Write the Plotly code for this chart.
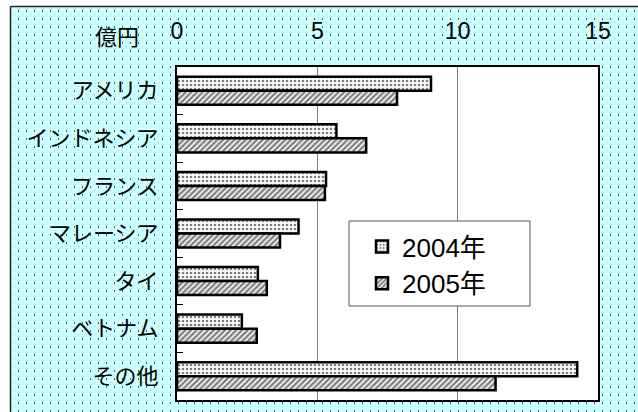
import plotly.graph_objects as go
import base64

categories = ["アメリカ", "インドネシア", "フランス", "マレーシア", "タイ", "ベトナム", "その他"]
series_names = ["2004年", "2005年"]
values_2004 = [9.05, 5.68, 5.31, 4.33, 2.88, 2.31, 14.26]
values_2005 = [7.84, 6.74, 5.27, 3.67, 3.20, 2.84, 11.35]
x_ticks = [0, 5, 10, 15]
unit_label = "億円"

W, H = 638, 412
L, R, T, B = 177, 40, 67, 12
pw, ph = W - L - R, H - T - B

FONT = "Liberation Sans, Arial, Noto Sans CJK JP, sans-serif"


def px_x(p):
    return (p - L) / pw


def px_y(p):
    return (H - B - p) / ph


# decorative background (dotted cyan chart area, white plot area)
svg = f'''<svg xmlns="http://www.w3.org/2000/svg" width="{W}" height="{H}" viewBox="0 0 {W} {H}">
<defs><pattern id="p" width="8" height="8" patternUnits="userSpaceOnUse">
<rect width="8" height="8" fill="#ccffff"/>
<rect x="2" y="2" width="1" height="2" fill="#3a6a6a"/>
<rect x="6" y="6" width="1" height="1" fill="#99cccc"/>
</pattern></defs>
<rect width="{W}" height="{H}" fill="#ffffff"/>
<rect x="11" y="6" width="{W}" height="{H}" fill="url(#p)"/>
<line x1="10.5" y1="6.5" x2="{W}" y2="6.5" stroke="#222" stroke-width="1.5"/>
<line x1="10.5" y1="6.5" x2="10.5" y2="{H}" stroke="#222" stroke-width="1.5"/>
<rect x="{L}" y="{T}" width="{pw}" height="{ph}" fill="#ffffff"/>
</svg>'''
src = "data:image/svg+xml;base64," + base64.b64encode(svg.encode()).decode()

fig = go.Figure()
fig.add_trace(go.Bar(
    y=categories, x=values_2004, name=series_names[0], orientation="h",
    marker=dict(color="white", line=dict(color="black", width=2.5),
                pattern=dict(shape=".", fgcolor="black", bgcolor="white", size=4, solidity=0.35)),
))
fig.add_trace(go.Bar(
    y=categories, x=values_2005, name=series_names[1], orientation="h",
    marker=dict(color="white", line=dict(color="black", width=2.5),
                pattern=dict(shape="/", fgcolor="black", bgcolor="white", size=4, solidity=0.6)),
))

fig.update_layout(
    width=W, height=H,
    margin=dict(l=L, r=R, t=T, b=B, autoexpand=False),
    paper_bgcolor="rgba(0,0,0,0)", plot_bgcolor="rgba(0,0,0,0)",
    barmode="group", bargap=0.41, bargroupgap=0,
    font=dict(family=FONT, size=22, color="black"),
    images=[dict(source=src, xref="paper", yref="paper",
                 x=-L / pw, y=(ph + T) / ph, sizex=W / pw, sizey=H / ph,
                 xanchor="left", yanchor="top", sizing="stretch", layer="below")],
    xaxis=dict(side="top", range=[0, 15], tickvals=x_ticks, ticktext=[str(v) for v in x_ticks],
               showgrid=True, gridcolor="#808080", gridwidth=1, zeroline=False,
               showline=True, linecolor="black", linewidth=2, mirror=True,
               ticks="", ticklabelstandoff=17, tickfont=dict(size=23, family=FONT)),
    yaxis=dict(type="category", categoryorder="array", categoryarray=categories,
               autorange="reversed", showline=True, linecolor="black", linewidth=2, mirror=True,
               ticks="inside", tickson="boundaries", ticklen=6, tickcolor="black", tickwidth=1,
               ticklabelstandoff=12, showgrid=False, tickfont=dict(size=22, family=FONT)),
    legend=dict(x=px_x(362), y=px_y(223), xanchor="left", yanchor="top",
                bgcolor="rgba(0,0,0,0)", borderwidth=0,
                font=dict(size=26, family=FONT), traceorder="normal"),
    shapes=[dict(type="rect", xref="paper", yref="paper",
                 x0=px_x(349), x1=px_x(530), y0=px_y(306), y1=px_y(221),
                 fillcolor="white", line=dict(color="#555555", width=1), layer="above")],
    annotations=[dict(text=unit_label, xref="paper", yref="paper",
                      x=px_x(117), y=px_y(37), showarrow=False,
                      xanchor="center", yanchor="middle", font=dict(size=22, family=FONT))],
)

fig.write_html("out.html", config={"displayModeBar": False},
               post_script="document.body.style.margin='0';")
